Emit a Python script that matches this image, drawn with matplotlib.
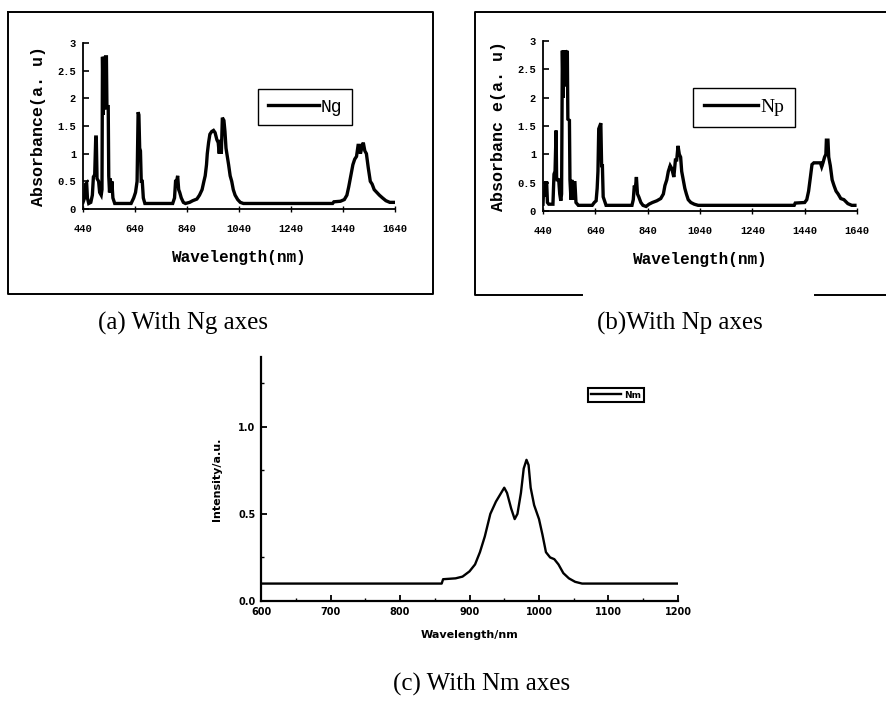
import matplotlib
matplotlib.use("Agg")
import matplotlib.pyplot as plt
from matplotlib.lines import Line2D
from matplotlib.ticker import MultipleLocator

W, H = 887, 702

# ---------------- data ----------------
NG_WL = [440, 446, 450, 454, 457, 462, 470, 476, 480, 485, 489, 491, 494, 500, 504, 510,
         513, 515, 518, 521, 524, 527, 530, 532, 537, 539, 542, 545, 548, 551, 555, 562,
         625, 635, 642, 648, 652, 655, 658, 661, 664, 668, 672, 678,
         785, 792, 796, 800, 804, 808, 812, 818, 826, 834,
         850, 862, 878, 888, 898, 905, 910, 915, 918, 923, 928, 935, 942, 948, 955, 960,
         964, 968, 972, 976, 982, 986, 990, 995, 1000, 1006, 1012, 1018, 1025, 1035, 1045, 1057,
         1400, 1405, 1430, 1445, 1455, 1462, 1470, 1478, 1485, 1492, 1498, 1503, 1507, 1512,
         1518, 1524, 1530, 1537, 1545, 1552, 1560, 1570, 1580, 1592, 1605, 1620, 1635]
NG_ABS = [0.12, 0.2, 0.45, 0.47, 0.2, 0.1, 0.12, 0.25, 0.58, 0.62, 1.30, 1.30, 0.55, 0.5, 0.3, 0.25,
          0.35, 2.75, 1.7, 2.75, 1.8, 2.75, 2.75, 1.85, 1.85, 0.6, 0.3, 0.55, 0.3, 0.5, 0.2, 0.1,
          0.1, 0.2, 0.3, 0.5, 1.75, 1.7, 1.1, 1.05, 0.5, 0.5, 0.2, 0.1,
          0.1, 0.2, 0.5, 0.5, 0.6, 0.35, 0.3, 0.2, 0.12, 0.1,
          0.12, 0.15, 0.18, 0.25, 0.35, 0.5, 0.6, 0.8, 1.0, 1.2, 1.35, 1.4, 1.42, 1.38, 1.25, 1.2,
          1.0, 1.25, 1.0, 1.65, 1.6, 1.4, 1.1, 0.95, 0.8, 0.6, 0.5, 0.35, 0.25, 0.17, 0.12, 0.1,
          0.1, 0.13, 0.14, 0.17, 0.25, 0.4, 0.6, 0.8, 0.9, 0.95, 1.15, 1.15, 1.0, 1.1,
          1.2, 1.05, 1.0, 0.75, 0.5, 0.45, 0.35, 0.3, 0.25, 0.2, 0.15, 0.12, 0.12]

NP_WL = [440, 442, 445, 449, 454, 457, 462, 478, 482, 486, 490, 492, 494, 500, 504, 508,
         511, 514, 517, 520, 523, 526, 530, 533, 535, 541, 543, 547, 550, 553, 557, 562, 566, 575,
         628, 636, 643, 647, 650, 653, 657, 661, 664, 667, 670, 681,
         780, 785, 789, 793, 797, 801, 806, 814, 822, 834,
         845, 858, 875, 890, 900, 906, 913, 919, 926, 932, 940, 946, 951, 956, 961, 966,
         970, 976, 982, 988, 995, 1005, 1018, 1033,
         1400, 1404, 1440, 1448, 1455, 1462, 1468, 1475, 1500, 1505, 1510, 1516, 1521, 1523,
         1529, 1532, 1538, 1545, 1552, 1560, 1568, 1578, 1590, 1605, 1620, 1632]
NP_ABS = [0.12, 0.35, 0.25, 0.5, 0.5, 0.15, 0.12, 0.12, 0.65, 0.7, 1.42, 0.6, 0.55, 0.55, 0.3, 0.18,
          0.3, 2.83, 2.0, 2.83, 2.2, 2.83, 2.8, 2.8, 1.62, 1.6, 0.55, 0.2, 0.55, 0.2, 0.5, 0.5, 0.15, 0.1,
          0.1, 0.15, 0.18, 0.4, 0.7, 1.45, 1.5, 1.55, 0.8, 0.8, 0.25, 0.1,
          0.1, 0.2, 0.45, 0.4, 0.6, 0.3, 0.25, 0.15, 0.1, 0.08,
          0.12, 0.15, 0.18, 0.22, 0.3, 0.45, 0.55, 0.7, 0.8, 0.75, 0.6, 0.9, 0.9, 1.15, 1.0, 0.95,
          0.7, 0.55, 0.4, 0.3, 0.2, 0.15, 0.12, 0.1,
          0.1, 0.14, 0.15, 0.2, 0.35, 0.6, 0.82, 0.85, 0.85, 0.78, 0.85, 0.95, 1.0, 1.25,
          1.25, 0.95, 0.8, 0.55, 0.45, 0.35, 0.3, 0.22, 0.2, 0.13, 0.1, 0.1]

NM_WL = [600, 860, 862, 880, 890, 900, 908, 915, 922, 930, 938, 944, 950, 954, 960, 965, 969,
         974, 978, 982, 985, 988, 993, 1000, 1005, 1010, 1016, 1022, 1028, 1035, 1043, 1052,
         1062, 1200]
NM_INT = [0.1, 0.1, 0.125, 0.13, 0.14, 0.17, 0.21, 0.28, 0.37, 0.5, 0.57, 0.61, 0.65, 0.62, 0.53,
          0.47, 0.5, 0.62, 0.76, 0.81, 0.78, 0.65, 0.55, 0.47, 0.38, 0.28, 0.25, 0.24, 0.21, 0.16,
          0.13, 0.11, 0.1, 0.1]

XTICKS_AB = [440, 640, 840, 1040, 1240, 1440, 1640]
YTICKS_AB = [0, 0.5, 1, 1.5, 2, 2.5, 3]
YTICKLABELS_AB = ["0", "0.5", "1", "1.5", "2", "2.5", "3"]
XTICKS_C = [600, 700, 800, 900, 1000, 1100, 1200]
YTICKS_C = [0.0, 0.5, 1.0]
YTICKLABELS_C = ["0.0", "0.5", "1.0"]

MONO = "Liberation Mono"
SERIF = "Liberation Serif"


def rect(l, t, r, b):
    return [l / W, 1 - b / H, (r - l) / W, (b - t) / H]


def fxy(x, y):
    return (x / W, 1 - y / H)


fig = plt.figure(figsize=(W / 100, H / 100), dpi=100)


def panel_ab(box, wl, ab, label, ylabel, legfont, legcenter):
    ax = fig.add_axes(rect(*box))
    ax.plot(wl, ab, color="black", lw=2.4, solid_joinstyle="miter", label=label)
    ax.set_xlim(440, 1640)
    ax.set_ylim(0, 3)
    for s in ("top", "right"):
        ax.spines[s].set_visible(False)
    for s in ("left", "bottom"):
        ax.spines[s].set_linewidth(1.3)
    ax.set_xticks(XTICKS_AB)
    ax.set_xticklabels([str(t) for t in XTICKS_AB])
    ax.set_yticks(YTICKS_AB)
    ax.set_yticklabels(YTICKLABELS_AB)
    ax.tick_params(axis="x", direction="inout", length=4, width=1, pad=9)
    ax.tick_params(axis="y", direction="in", length=4, width=1.2, pad=5)
    for t in ax.get_xticklabels() + ax.get_yticklabels():
        t.set_fontfamily(MONO)
        t.set_fontweight("bold")
        t.set_fontsize(7.5)
    ax.set_xlabel("Wavelength(nm)", fontfamily=MONO, fontweight="bold", fontsize=11.5, labelpad=11)
    ax.set_ylabel(ylabel, fontfamily=MONO, fontweight="bold", fontsize=12, labelpad=8)
    leg = ax.legend(loc="center", bbox_to_anchor=fxy(*legcenter), bbox_transform=fig.transFigure,
                    fancybox=False, edgecolor="black", framealpha=1, handlelength=2.8,
                    handletextpad=0.1, borderpad=0.55, prop=legfont)
    leg.get_frame().set_linewidth(1.0)
    return ax


panel_ab((83, 43, 395, 209), NG_WL, NG_ABS, "Ng", "Absorbance(a. u)",
         dict(family=MONO, size=13), (305, 107))
panel_ab((543, 41, 857, 211), NP_WL, NP_ABS, "Np", "Absorbanc e(a. u)",
         dict(family=SERIF, size=14), (744, 107))

# ----- panel (c)
axc = fig.add_axes(rect(261, 357, 678, 601))
axc.plot(NM_WL, NM_INT, color="black", lw=1.7, label="Nm")
axc.set_xlim(600, 1200)
axc.set_ylim(0, 1.4)
for s in ("top", "right"):
    axc.spines[s].set_visible(False)
for s in ("left", "bottom"):
    axc.spines[s].set_linewidth(1.6)
axc.set_xticks(XTICKS_C)
axc.set_xticklabels([str(t) for t in XTICKS_C])
axc.set_yticks(YTICKS_C)
axc.set_yticklabels(YTICKLABELS_C)
axc.xaxis.set_minor_locator(MultipleLocator(50))
axc.yaxis.set_minor_locator(MultipleLocator(0.25))
axc.tick_params(which="major", direction="in", length=4, width=1.3, pad=4)
axc.tick_params(which="minor", direction="in", length=2, width=1.0)
for t in axc.get_xticklabels() + axc.get_yticklabels():
    t.set_fontweight("bold")
    t.set_fontsize(7)
axc.set_xlabel("Wavelength/nm", fontweight="bold", fontsize=8, labelpad=10)
axc.set_ylabel("Intensity/a.u.", fontweight="bold", fontsize=8, labelpad=12)
legc = axc.legend(loc="center", bbox_to_anchor=fxy(616, 395), bbox_transform=fig.transFigure,
                  fancybox=False, edgecolor="black", framealpha=1, handlelength=3.4,
                  handletextpad=0.3, borderpad=0.3, prop=dict(size=6.5, weight="bold"))
legc.get_frame().set_linewidth(1.5)

# ----- panel frames
def fline(xs, ys, lw=1.4):
    fig.add_artist(Line2D([x / W for x in xs], [1 - y / H for y in ys],
                          color="black", lw=lw, transform=fig.transFigure))

fline([8, 433, 433, 8, 8], [12, 12, 294, 294, 12])
fline([887, 475, 475, 582], [12, 12, 295, 295])
fline([815, 887], [295, 295])

# ----- captions
fig.text(*fxy(183, 323), "(a) With Ng axes", family=SERIF, fontsize=18, ha="center", va="center")
fig.text(*fxy(680, 323), "(b)With Np axes", family=SERIF, fontsize=18, ha="center", va="center")
fig.text(*fxy(482, 684), "(c) With Nm axes", family=SERIF, fontsize=18, ha="center", va="center")

fig.savefig("out.png", dpi=100)
